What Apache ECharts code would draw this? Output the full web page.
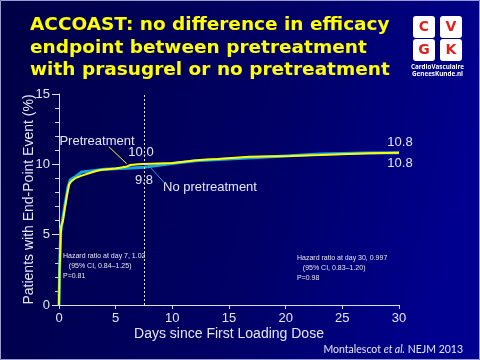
<!DOCTYPE html>
<html><head><meta charset="utf-8">
<script src="https://cdn.jsdelivr.net/npm/echarts@6/dist/echarts.min.js"></script>
<style>html,body{margin:0;padding:0;background:#000050;}#c{width:480px;height:360px;}</style>
</head><body><div id="c"></div>
<script>
// Data (days, % with end-point event)
const pretreatment = [[0,0],[0.05,2.5],[0.15,5.0],[0.2,5.6],[0.35,6.0],[0.5,6.8],[0.7,7.8],[0.9,8.6],[1.1,8.8],[1.4,9.0],[2,9.2],[3,9.45],[3.6,9.6],[5,9.7],[6,9.85],[6.3,9.95],[7,10.0],[7.5,10.02],[10,10.1],[12.4,10.3],[14,10.38],[16.8,10.54],[20.4,10.6],[23,10.66],[27.4,10.78],[30,10.83]];
const noPretreatment = [[0,0],[0.05,2.5],[0.15,5.2],[0.3,6.0],[0.5,7.0],[0.8,8.4],[1.0,8.9],[1.5,9.15],[2.0,9.45],[3,9.55],[4,9.65],[6,9.72],[7.5,9.8],[8,9.85],[10,10.05],[12,10.25],[15.4,10.4],[20,10.6],[23,10.73],[27,10.8],[30,10.82]];
const xTicks = [0,5,10,15,20,25,30];
const yTicks = [0,5,10,15];
const titleLines = ['ACCOAST: no difference in efficacy','endpoint between pretreatment','with prasugrel or no pretreatment'];
const hr7 = ['Hazard ratio at day 7, 1.02','   (95% CI, 0.84\u20131.25)','P=0.81'];
const hr30 = ['Hazard ratio at day 30, 0.997','   (95% CI, 0.83\u20131.20)','P=0.98'];

const chart = echarts.init(document.getElementById('c'), null, {renderer:'canvas'});
const axisCol = '#dcdcec';
const txtCol = '#e6e6f2';
const sans = 'Liberation Sans, Arial, sans-serif';

const graphics = [
  {type:'rect', shape:{x:0.5,y:0.5,width:479,height:359}, style:{fill:null, stroke:'#9a9ad0', lineWidth:1}, z:-1},
];
titleLines.forEach((t,i)=>graphics.push({type:'text', left:30, top:16+i*22.5, style:{text:t, fill:'#ffff00', font:'bold 18.5px "DejaVu Sans", Verdana, sans-serif'}}));
// logo
const lq = [[413,16],[440,16],[413,39],[440,39]];
const letters = ['C','V','G','K'];
lq.forEach((p,i)=>{
  graphics.push({type:'rect', shape:{x:p[0],y:p[1],width:22,height:22,r:3}, style:{fill:'#ffffff'}});
  graphics.push({type:'text', x:p[0]+11, y:p[1]+11.5, style:{text:letters[i], fill:'#e0201c', font:'bold 14px "DejaVu Sans", sans-serif', align:'center', verticalAlign:'middle'}});
});
graphics.push({type:'text', x:437.5, y:67, style:{text:'CardioVasculaire', fill:'#ffffff', font:'bold 6.3px "Open Sans", sans-serif', align:'center', verticalAlign:'middle'}});
graphics.push({type:'text', x:437.5, y:74, style:{text:'GeneesKunde.nl', fill:'#ffffff', font:'bold 6.3px "Open Sans", sans-serif', align:'center', verticalAlign:'middle'}});
// annotations
const ann = (t,x,y,al)=>graphics.push({type:'text', x:x, y:y, style:{text:t, fill:txtCol, font:'13px '+sans, align:al||'center', verticalAlign:'middle'}});
ann('Pretreatment', 97, 141);
ann('10.0', 141, 152);
ann('9.8', 144, 180);
ann('No pretreatment', 210, 187);
ann('10.8', 400, 142);
ann('10.8', 400, 163);
hr7.forEach((t,i)=>graphics.push({type:'text', x:63, y:256+i*10, style:{text:t, fill:txtCol, font:'7px "Liberation Sans Narrow", '+sans, verticalAlign:'middle'}}));
hr30.forEach((t,i)=>graphics.push({type:'text', x:297, y:258+i*10, style:{text:t, fill:txtCol, font:'7px "Liberation Sans Narrow", '+sans, verticalAlign:'middle'}}));
graphics.push({type:'text', right:17, top:344, style:{rich:{a:{font:'10.5px Lato, "Open Sans", sans-serif', fill:'#e6e6f2'}, i:{font:'italic 10.5px Lato, "Open Sans", sans-serif', fill:'#e6e6f2'}}, text:'{a|Montalescot }{i|et al.}{a| NEJM 2013}'}});

chart.setOption({
  animation:false,
  backgroundColor:{type:'linear', x:0, y:0, x2:1, y2:0.3, colorStops:[{offset:0,color:'#000046'},{offset:0.6,color:'#000066'},{offset:1,color:'#00008e'}]},
  grid:{left:59, right:81, top:94, bottom:55},
  xAxis:{type:'value', min:0, max:30, interval:5,
    name:'Days since First Loading Dose', nameLocation:'middle', nameGap:22, nameMoveOverlap:false,
    nameTextStyle:{color:txtCol, fontSize:14, fontFamily:sans},
    axisLine:{show:true, lineStyle:{color:axisCol, width:1}},
    axisTick:{show:true, length:4, lineStyle:{color:axisCol}},
    axisLabel:{color:txtCol, fontSize:13, fontFamily:sans, margin:7, customValues:xTicks},
    splitLine:{show:false}},
  yAxis:{type:'value', min:0, max:15, interval:5,
    name:'Patients with End-Point Event (%)', nameLocation:'middle', nameGap:23, nameMoveOverlap:false,
    nameTextStyle:{color:txtCol, fontSize:14, fontFamily:sans},
    axisLine:{show:true, lineStyle:{color:axisCol, width:1}},
    axisTick:{show:true, length:7, lineStyle:{color:axisCol}},
    minorTick:{show:true, splitNumber:5, length:4, lineStyle:{color:axisCol}},
    axisLabel:{color:txtCol, fontSize:13, fontFamily:sans, margin:9},
    splitLine:{show:false}},
  graphic:graphics,
  series:[
    {name:'No pretreatment', type:'line', data:noPretreatment, showSymbol:false, symbol:'none', z:2,
      lineStyle:{color:'#18a4e0', width:3},
      markLine:{silent:true, symbol:'none', label:{show:false},
        lineStyle:{color:'#18a4e0', width:1, type:'solid'},
        data:[[{coord:[8.0,9.83]},{coord:[9.35,8.65]}]]}},
    {name:'Pretreatment', type:'line', data:pretreatment, showSymbol:false, symbol:'none', z:3,
      lineStyle:{color:'#ffff00', width:2},
      markLine:{silent:true, symbol:'none', label:{show:false},
        data:[
          [{coord:[4.4,11.25], lineStyle:{color:'#ffff00', width:1, type:'solid'}},{coord:[5.97,10.05]}],
          [{coord:[7.5,0], lineStyle:{color:'#e8e8f0', width:1, type:[2,2]}},{coord:[7.5,15]}]
        ]}}
  ]
});
</script></body></html>
